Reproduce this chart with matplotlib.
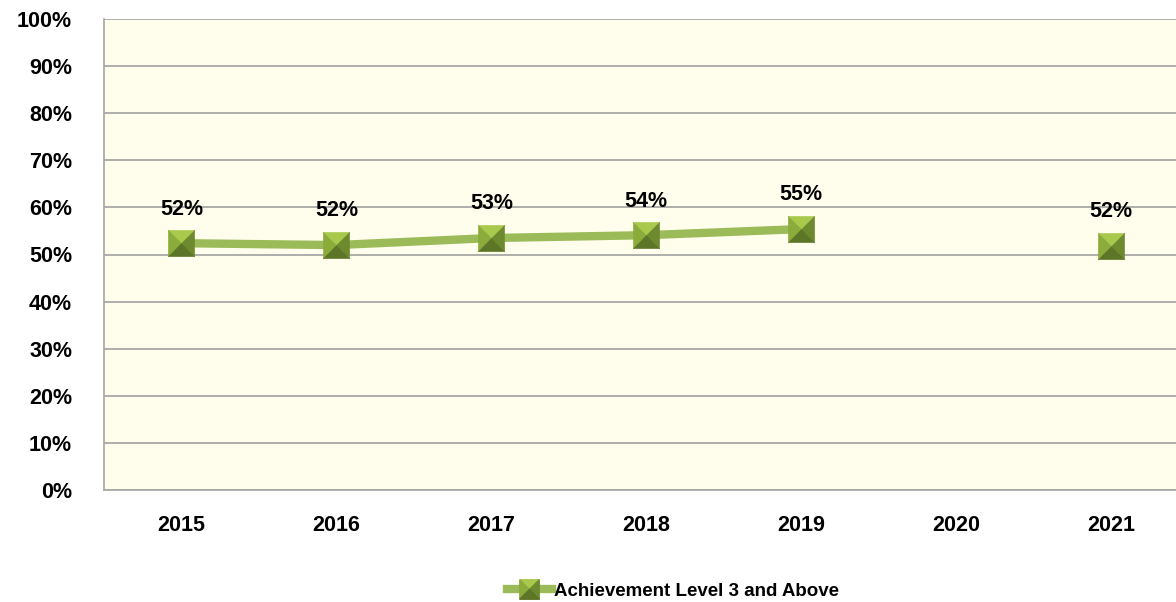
import numpy as np
import matplotlib.pyplot as plt
from matplotlib.path import Path
from matplotlib.legend_handler import HandlerTuple

years = ['2015', '2016', '2017', '2018', '2019', '2020', '2021']
values = [52.4, 52.0, 53.5, 54.1, 55.4, np.nan, 51.8]
labels = ['52%', '52%', '53%', '54%', '55%', '', '52%']
series_name = 'Achievement Level 3 and Above'

plt.rcParams['font.family'] = ['Liberation Sans', 'DejaVu Sans']
plt.rcParams['font.weight'] = 'bold'

fig = plt.figure(figsize=(11.76, 6.02), dpi=100)
ax = fig.add_axes([104/1176, 1-490/602, 1084.5/1176, 471/602])
ax.set_facecolor('#fffdeb')

x = np.arange(len(years))
line_col = '#9bbb59'
ax.plot(x, values, color=line_col, lw=6, zorder=3)

# pyramid style square marker made of four triangles
tris = [
    (Path([(-1, 1), (1, 1), (0, 0), (-1, 1)]), '#a9c94d'),   # top
    (Path([(-1, 1), (0, 0), (-1, -1), (-1, 1)]), '#8bab3b'),  # left
    (Path([(1, 1), (1, -1), (0, 0), (1, 1)]), '#6d8a2e'),     # right
    (Path([(-1, -1), (0, 0), (1, -1), (-1, -1)]), '#5c7526'), # bottom
]
ms = 19
for p, c in tris:
    ax.plot(x, values, ls='none', marker=p, ms=ms, mfc=c, mec=c, mew=0.3, zorder=4)

for xi, v, lab in zip(x, values, labels):
    if lab:
        ax.annotate(lab, (xi, v), xytext=(0, 17), textcoords='offset points',
                    ha='center', va='bottom', fontsize=15.5, fontweight='bold')

ax.set_xlim(-0.5, len(years) - 0.5)
ax.set_ylim(0, 100)
ax.set_yticks(np.arange(0, 101, 10))
ax.set_yticklabels([f'{t}%' for t in range(0, 101, 10)])
ax.set_xticks(x)
ax.set_xticklabels(years)
ax.tick_params(axis='both', length=0, labelsize=15.5)
ax.tick_params(axis='y', pad=23)
ax.tick_params(axis='x', pad=18)
ax.grid(axis='y', color='#a0a0a0', lw=1.2)
ax.set_axisbelow(True)
for s in ['top', 'right']:
    ax.spines[s].set_visible(False)
for s in ['left', 'bottom']:
    ax.spines[s].set_color('#a6a6a6')
    ax.spines[s].set_linewidth(1.2)

line_h, = ax.plot([], [], color=line_col, lw=6)
mk = [plt.Line2D([], [], ls='none', marker=p, ms=14, mfc=c, mec=c) for p, c in tris]
fig.legend([tuple([line_h] + mk)], [series_name],
           handler_map={tuple: HandlerTuple(ndivide=1, pad=0)},
           loc='center', bbox_to_anchor=(0.572, 0.018), frameon=False,
           handlelength=2.4, handletextpad=0.1, prop={'weight': 'bold', 'size': 13.5})

fig.savefig('out.png', dpi=100)
